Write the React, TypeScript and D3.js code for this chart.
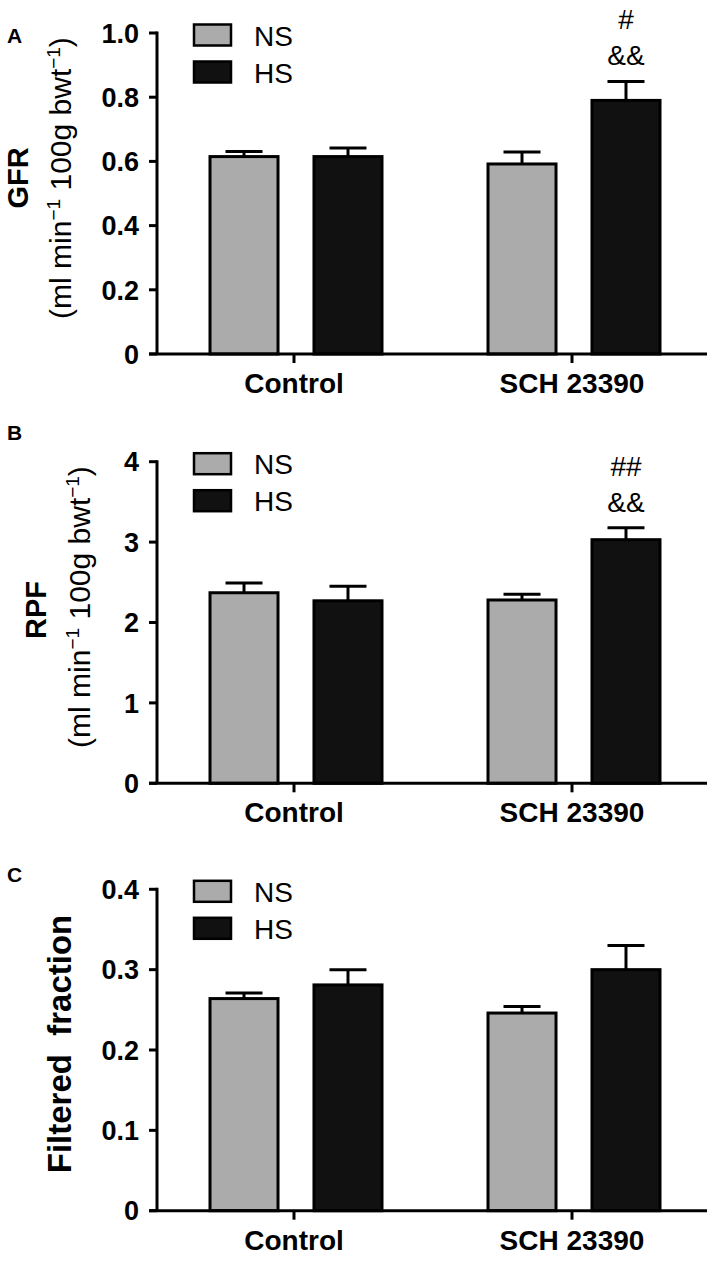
import React from "react";
import * as d3 from "d3";

const categories = ["Control", "SCH 23390"];
const series = ["NS", "HS"];

const gfrNS = [0.615, 0.592];
const gfrNSErr = [0.016, 0.037];
const gfrHS = [0.615, 0.79];
const gfrHSErr = [0.027, 0.059];
const gfrTicks = [0, 0.2, 0.4, 0.6, 0.8, 1.0];
const gfrTickLabels = ["0", "0.2", "0.4", "0.6", "0.8", "1.0"];
const gfrAnnot = [[], ["#", "&&"]];

const rpfNS = [2.37, 2.28];
const rpfNSErr = [0.12, 0.07];
const rpfHS = [2.27, 3.03];
const rpfHSErr = [0.18, 0.15];
const rpfTicks = [0, 1, 2, 3, 4];
const rpfTickLabels = ["0", "1", "2", "3", "4"];
const rpfAnnot = [[], ["##", "&&"]];

const ffNS = [0.264, 0.246];
const ffNSErr = [0.007, 0.008];
const ffHS = [0.281, 0.3];
const ffHSErr = [0.019, 0.03];
const ffTicks = [0, 0.1, 0.2, 0.3, 0.4];
const ffTickLabels = ["0", "0.1", "0.2", "0.3", "0.4"];
const ffAnnot = [[], []];

const FONT = "'Liberation Sans', Arial, Helvetica, sans-serif";
const colors: Record<string, string> = { NS: "#ababab", HS: "#111111" };

const AXIS_X = 157;
const X_END = 707;

const xGroup = d3.scaleBand<string>().domain(categories).range([157, 713]).paddingInner(0).paddingOuter(0);

function innerScale(cat: string) {
  const c = (xGroup(cat) as number) + xGroup.bandwidth() / 2;
  return d3.scaleBand<string>().domain(series).range([c - 87.5, c + 87.5]).paddingInner(0.317).paddingOuter(0);
}

type PanelProps = {
  letter: string;
  letterY: number;
  y0: number;
  y1: number;
  max: number;
  ticks: number[];
  tickLabels: string[];
  ns: number[];
  nsErr: number[];
  hs: number[];
  hsErr: number[];
  annot: string[][];
  ylabel: React.ReactNode;
};

function Panel(p: PanelProps) {
  const y = d3.scaleLinear().domain([0, p.max]).range([p.y0, p.y1]);
  const vals: Record<string, number[]> = { NS: p.ns, HS: p.hs };
  const errs: Record<string, number[]> = { NS: p.nsErr, HS: p.hsErr };
  const top = y(p.max);
  return (
    <g>
      <text x={7} y={p.letterY} fontFamily={FONT} fontWeight="bold" fontSize={21}>
        {p.letter}
      </text>
      {p.ylabel}
      {categories.map((cat, ci) => {
        const inner = innerScale(cat);
        return series.map((s) => {
          const x = inner(s) as number;
          const w = inner.bandwidth();
          const v = vals[s][ci];
          const e = errs[s][ci];
          const cx = x + w / 2;
          return (
            <g key={cat + s}>
              <line x1={cx} x2={cx} y1={y(v)} y2={y(v + e)} stroke="#000" strokeWidth={3} />
              <line x1={cx - 18.5} x2={cx + 18.5} y1={y(v + e)} y2={y(v + e)} stroke="#000" strokeWidth={3} />
              <rect x={x + 1.5} y={y(v)} width={w - 3} height={y(0) - y(v)} fill={colors[s]} stroke="#000" strokeWidth={3} />
              {s === "HS" &&
                p.annot[ci].map((a, ai) => (
                  <text
                    key={ai}
                    x={cx}
                    y={y(v + e) - 52 + ai * 36}
                    textAnchor="middle"
                    fontFamily={FONT}
                    fontSize={28}
                  >
                    {a}
                  </text>
                ))}
            </g>
          );
        });
      })}
      <line x1={AXIS_X} x2={AXIS_X} y1={top - 1.5} y2={p.y0} stroke="#000" strokeWidth={3} />
      {p.ticks.map((t, i) => (
        <g key={i}>
          <line x1={AXIS_X - 8} x2={AXIS_X} y1={y(t)} y2={y(t)} stroke="#000" strokeWidth={3} />
          <text
            x={139}
            y={y(t)}
            dy="0.36em"
            textAnchor="end"
            fontFamily={FONT}
            fontWeight="bold"
            fontSize={27}
          >
            {p.tickLabels[i]}
          </text>
        </g>
      ))}
      <line x1={AXIS_X - 8} x2={X_END} y1={p.y0} y2={p.y0} stroke="#000" strokeWidth={3} />
      {categories.map((cat) => {
        const cx = (xGroup(cat) as number) + xGroup.bandwidth() / 2 - 2;
        return (
          <g key={cat}>
            <line x1={cx} x2={cx} y1={p.y0} y2={p.y0 + 9} stroke="#000" strokeWidth={3} />
            <text x={cx} y={p.y0 + 39} textAnchor="middle" fontFamily={FONT} fontWeight="bold" fontSize={28}>
              {cat}
            </text>
          </g>
        );
      })}
      {series.map((s, i) => (
        <g key={s}>
          <rect
            x={194}
            y={top - 8.5 + i * 37}
            width={37}
            height={21}
            fill={colors[s]}
            stroke="#000"
            strokeWidth={2.5}
          />
          <text x={254} y={top + 12.5 + i * 37} fontFamily={FONT} fontSize={28}>
            {s}
          </text>
        </g>
      ))}
    </g>
  );
}

function UnitLabel({ x, y }: { x: number; y: number }) {
  return (
    <text transform={`translate(${x},${y}) rotate(-90)`} textAnchor="middle" fontFamily={FONT} fontSize={30}>
      (ml min
      <tspan dy={-11} fontSize={19}>−1</tspan>
      <tspan dy={11}> 100g bwt</tspan>
      <tspan dy={-11} fontSize={19}>−1</tspan>
      <tspan dy={11}>)</tspan>
    </text>
  );
}

export default function App() {
  return (
    <svg
      width={709}
      height={1261}
      viewBox="0 0 709 1261"
      style={{ position: "absolute", left: 0, top: 0, background: "#fff" }}
    >
      <rect width={709} height={1261} fill="#fff" />
      <Panel
        letter="A"
        letterY={43}
        y0={354}
        y1={33}
        max={1.0}
        ticks={gfrTicks}
        tickLabels={gfrTickLabels}
        ns={gfrNS}
        nsErr={gfrNSErr}
        hs={gfrHS}
        hsErr={gfrHSErr}
        annot={gfrAnnot}
        ylabel={
          <g>
            <text transform="translate(28,178) rotate(-90)" textAnchor="middle" fontFamily={FONT} fontWeight="bold" fontSize={29}>
              GFR
            </text>
            <UnitLabel x={71} y={178} />
          </g>
        }
      />
      <Panel
        letter="B"
        letterY={440}
        y0={783.3}
        y1={461.7}
        max={4}
        ticks={rpfTicks}
        tickLabels={rpfTickLabels}
        ns={rpfNS}
        nsErr={rpfNSErr}
        hs={rpfHS}
        hsErr={rpfHSErr}
        annot={rpfAnnot}
        ylabel={
          <g>
            <text transform="translate(46,610) rotate(-90)" textAnchor="middle" fontFamily={FONT} fontWeight="bold" fontSize={29}>
              RPF
            </text>
            <UnitLabel x={90} y={607} />
          </g>
        }
      />
      <Panel
        letter="C"
        letterY={882}
        y0={1210.7}
        y1={889.3}
        max={0.4}
        ticks={ffTicks}
        tickLabels={ffTickLabels}
        ns={ffNS}
        nsErr={ffNSErr}
        hs={ffHS}
        hsErr={ffHSErr}
        annot={ffAnnot}
        ylabel={
          <text
            transform="translate(71,1044) rotate(-90)"
            textAnchor="middle"
            fontFamily={FONT}
            fontWeight="bold"
            fontSize={33}
            style={{ whiteSpace: "pre" }}
          >
            {"Filtered  fraction"}
          </text>
        }
      />
    </svg>
  );
}
